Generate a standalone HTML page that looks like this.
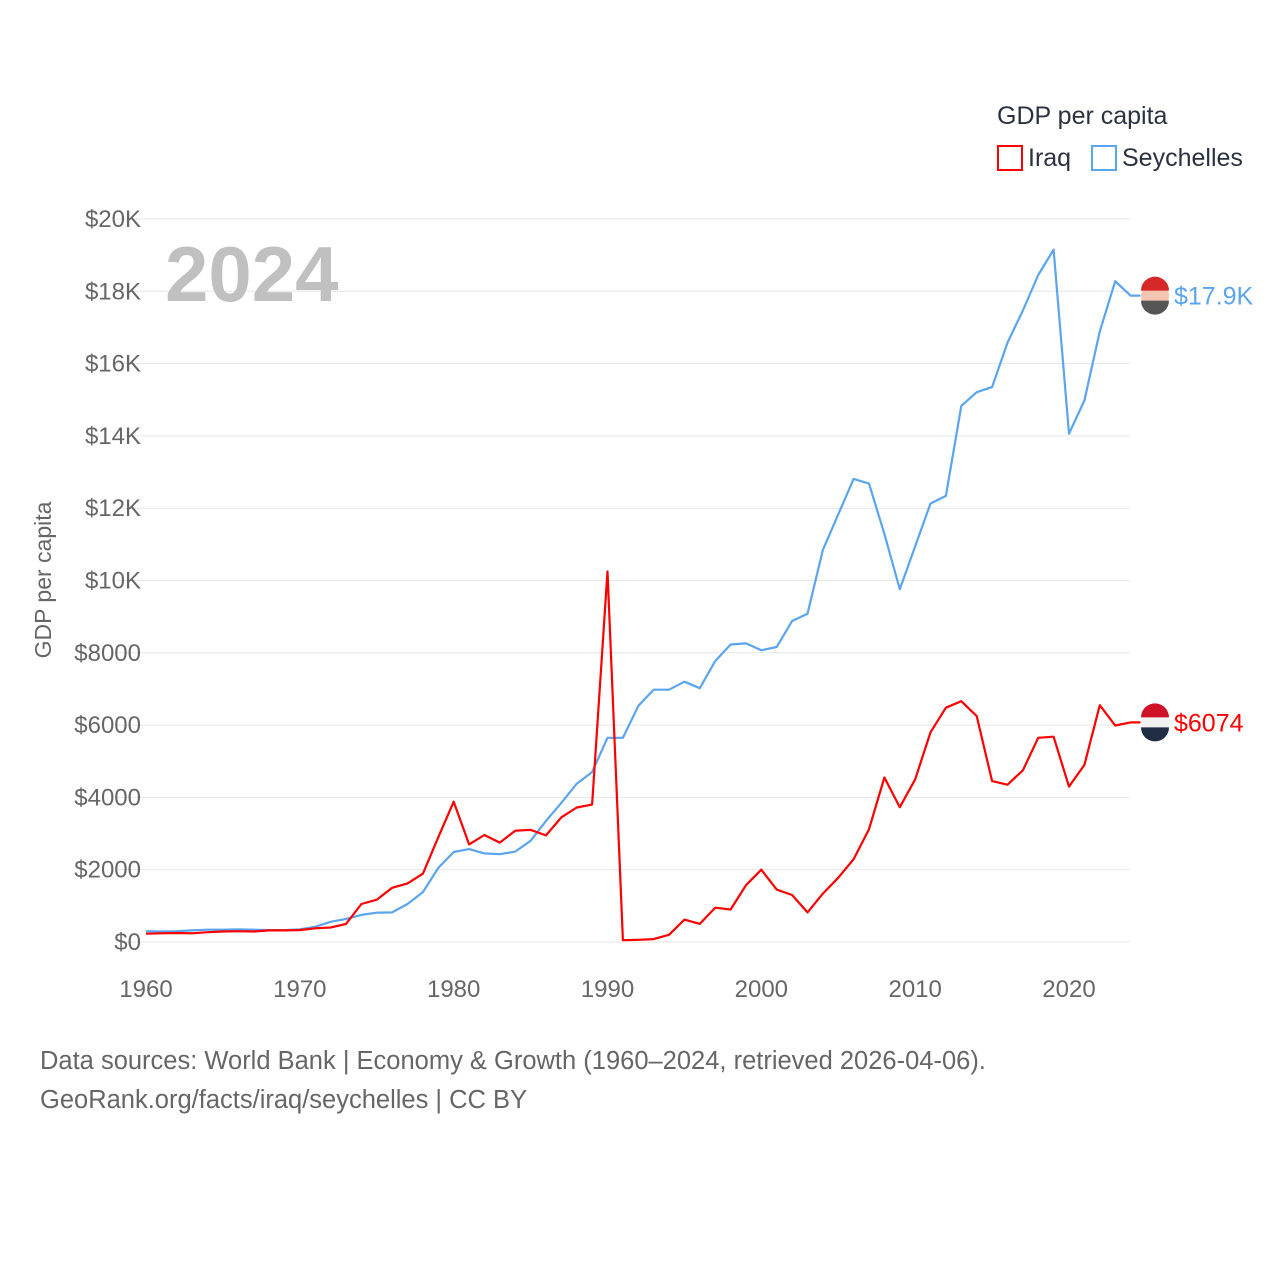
<!DOCTYPE html>
<html><head><meta charset="utf-8">
<style>
body{margin:0;background:#fff;font-family:"Liberation Sans",sans-serif;}
svg text{font-family:"Liberation Sans",sans-serif;}
</style></head>
<body>
<svg id="chart" width="1280" height="1280" viewBox="0 0 1280 1280" xmlns="http://www.w3.org/2000/svg">
<text x="997" y="124" font-size="25" fill="#2a3140">GDP per capita</text>
<g><rect x="998" y="146" width="24" height="24" fill="none" stroke="#ff0000" stroke-width="2"/><text x="1028" y="166" font-size="25" fill="#2a3140">Iraq</text></g>
<g><rect x="1092" y="146" width="24" height="24" fill="none" stroke="#5aa5ee" stroke-width="2"/><text x="1122" y="166" font-size="25" fill="#2a3140">Seychelles</text></g>
<g id="grid"></g>
<text x="165" y="301" font-size="78" font-weight="bold" fill="#c0c0c0">2024</text>
<text transform="translate(51,580) rotate(-90)" text-anchor="middle" font-size="23" fill="#666">GDP per capita</text>
<g id="series"></g>
<text x="40" y="1069" font-size="25.5" fill="#666">Data sources: World Bank | Economy &amp; Growth (1960–2024, retrieved 2026-04-06).</text>
<text x="40" y="1108" font-size="25.5" fill="#666">GeoRank.org/facts/iraq/seychelles | CC BY</text>
</svg>
<script>
const years=[];for(let y=1960;y<=2024;y++)years.push(y);
const iraq=[230,240,250,240,270,290,300,290,320,320,330,380,400,500,1050,1170,1500,1620,1890,2900,3880,2700,2960,2750,3080,3100,2950,3450,3720,3800,10250,50,60,80,200,620,500,950,900,1570,2000,1450,1300,820,1340,1780,2290,3120,4550,3730,4500,5800,6480,6660,6250,4450,4350,4750,5650,5680,4300,4900,6550,5990,6074];
const seychelles=[300,290,300,320,340,340,350,340,330,330,350,420,560,640,750,810,820,1050,1380,2050,2490,2570,2450,2430,2500,2800,3350,3850,4380,4700,5650,5650,6530,6980,6980,7200,7020,7770,8230,8260,8070,8160,8880,9080,10850,11830,12810,12680,11290,9760,10950,12130,12340,14830,15210,15350,16580,17470,18450,19150,14060,14980,16890,18280,17880];
const yTicks=[0,2000,4000,6000,8000,10000,12000,14000,16000,18000,20000];
const yTickLabels=["$0","$2000","$4000","$6000","$8000","$10K","$12K","$14K","$16K","$18K","$20K"];
const xTicks=[1960,1970,1980,1990,2000,2010,2020];
const endLabels=["$6074","$17.9K"];
const NS="http://www.w3.org/2000/svg";
const X=y=>146+(y-1960)*(1069-146)/60;
const Y=v=>942-v*(942-219)/20000;
function mk(tag,attrs,parent){const e=document.createElementNS(NS,tag);for(const k in attrs)e.setAttribute(k,attrs[k]);parent.appendChild(e);return e;}
const grid=document.getElementById('grid');
yTicks.forEach((t,i)=>{
 const l=mk('line',{x1:116,x2:1130,y1:Y(t),y2:Y(t),stroke:'#e6e6e6','stroke-width':1},grid);
 
 
 const tx=mk('text',{x:141,y:Y(t)+8,'text-anchor':'end','font-size':24,fill:'#666'},grid);
 tx.textContent=yTickLabels[i];
 
 
});
xTicks.forEach(t=>{
 const tx=mk('text',{x:X(t),y:997,'text-anchor':'middle','font-size':24,fill:'#666'},grid);
 tx.textContent=t;
 
 
});
const ser=document.getElementById('series');
function line(data,color,name){
 let d=data.map((v,i)=>(i?'L':'M')+X(years[i]).toFixed(1)+','+Y(v).toFixed(1)).join(' ');
 d+=' L'+(X(2024)+10)+','+Y(data[data.length-1]).toFixed(1);
 const p=mk('path',{d:d,fill:'none',stroke:color,'stroke-width':2.2,'stroke-linejoin':'round'},ser);
 
 
}
line(seychelles,'#5aa5ee','seychelles-line');
line(iraq,'#ff0000','iraq-line');
function flag(v,name,colors,label,color){
 const cy=Y(v),cx=1155;
 const g=mk('g',{},ser);
 
 
 mk('circle',{cx:cx,cy:cy,r:14,fill:colors[1]},g);
 mk('path',{d:`M${cx-14},${cy-5} A14,14 0 0 1 ${cx+14},${cy-5} Z`,fill:colors[0]},g);
 mk('path',{d:`M${cx-14},${cy+5} A14,14 0 0 0 ${cx+14},${cy+5} Z`,fill:colors[2]},g);
 const t=mk('text',{x:1174,y:cy+9,'font-size':25,fill:color},ser);
 t.textContent=label;
 
 
}
flag(seychelles[seychelles.length-1],'seychelles-flag',['#d62828','#f4c5b0','#555'],endLabels[1],'#5aa5ee');
flag(iraq[iraq.length-1],'iraq-flag',['#ce1126','#f0f0f0','#1f2d45'],endLabels[0],'#ff0000');
</script>
</body></html>
